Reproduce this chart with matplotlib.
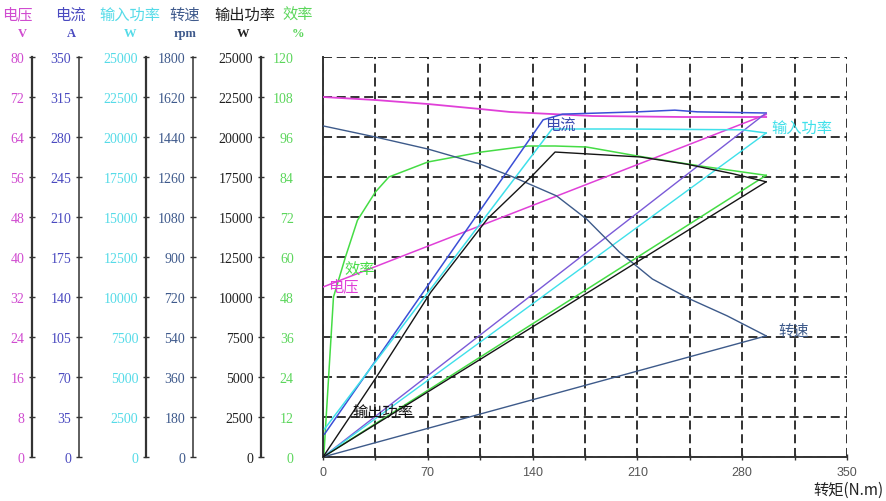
import numpy as np
import matplotlib
matplotlib.use("Agg")
import matplotlib.pyplot as plt

# ---------------- data ----------------
# voltage (V)
volt_torque = [0, 35, 70, 105, 125, 180, 240, 296]
volt_vals = [72, 71.4, 70.6, 69.6, 69.0, 68.2, 68.0, 68.0]
volt_ret_torque = [296, 0]
volt_ret_vals = [68.5, 34.0]

# current (A)
cur_torque = [1, 147, 160, 210, 235, 250, 296]
cur_vals = [20, 295, 300, 302, 303.5, 302, 301]
cur_ret_torque = [296, 0]
cur_ret_vals = [301, 0]

# input power (W)
pin_torque = [1, 153, 200, 280, 296]
pin_vals = [1750, 20500, 20500, 20450, 20250]
pin_ret_torque = [296, 0]
pin_ret_vals = [20250, 0]

# speed (rpm)
spd_torque = [0, 35, 70, 105, 127, 156, 176, 198, 220, 245, 270, 296]
spd_vals = [1490, 1440, 1386, 1318, 1260, 1175, 1071, 922, 801, 711, 635, 545]
spd_ret_torque = [296, 0]
spd_ret_vals = [545, 0]

# output power (W)
pout_torque = [0, 35, 72, 110, 140, 155, 212, 243, 274, 296]
pout_vals = [0, 4900, 10300, 14900, 17600, 19060, 18750, 18300, 17700, 17200]
pout_ret_torque = [296, 0]
pout_ret_vals = [17200, 0]

# efficiency (%)
eff_torque = [0.5, 7, 15, 23, 35, 44, 70, 106, 137, 155, 176, 210, 252, 296]
eff_vals = [0, 48, 60, 71, 79.5, 84, 88.5, 91.5, 93.3, 93.3, 93.0, 90.3, 87.3, 84.5]
eff_ret_torque = [296, 0]
eff_ret_vals = [84.5, 0]

x_ticks = [0, 70, 140, 210, 280, 350]
x_minor = [35, 105, 175, 245, 315]

# axis definitions
axis_names = ["电压", "电流", "输入功率", "转速", "输出功率", "效率"]
axis_units = ["V", "A", "W", "rpm", "W", "%"]
axis_max = [80, 350, 25000, 1800, 25000, 120]

# ---------------- style ----------------
CJK = ["Noto Sans CJK SC", "DejaVu Sans"]
SERIF = ["Liberation Serif", "DejaVu Serif"]
plt.rcParams["font.family"] = SERIF

c_volt = "#e040d8"
c_cur = "#4f4fcf"
c_pin = "#3fe0ea"
c_spd = "#3d5a8a"
c_pout = "#151515"
c_eff = "#45dc45"
lab_cols = ["#d04cd0", "#4a4ac0", "#55dbe8", "#3f5a8c", "#202020", "#5cd65c"]

W, H = 887, 502
fig = plt.figure(figsize=(W / 100, H / 100), dpi=100)
fig.patch.set_facecolor("white")

L, R, T, B = 323, 847, 58, 458
ax = fig.add_axes([L / W, 1 - B / H, (R - L) / W, (B - T) / H])
ax.set_xlim(0, 350)
ax.set_ylim(0, axis_max[5])
ax.set_xticks(x_ticks)
ax.set_xticks(x_minor, minor=True)
ax.set_yticks(np.linspace(0, axis_max[5], 11))
ax.set_yticklabels([f"{v:g}" for v in np.linspace(0, axis_max[5], 11)])
ax.grid(True, which="both", color="#222222", linestyle=(0, (5, 2.6)), linewidth=1.3)
ax.set_axisbelow(True)
for s in ["top", "right"]:
    ax.spines[s].set_visible(False)
for s in ["left", "bottom"]:
    ax.spines[s].set_color("#333333")
    ax.spines[s].set_linewidth(1.4)
ax.tick_params(axis="y", length=0, pad=21, labelcolor=lab_cols[5], labelsize=10)
ax.tick_params(axis="x", which="both", direction="inout", length=5, width=1,
               color="#333333", labelcolor="#555555", labelsize=9, pad=4)
for lab in ax.get_xticklabels():
    lab.set_family(["Liberation Sans", "DejaVu Sans"])

spine_px = [32, 79, 146, 193, 261]
twin_axes = []
for i in range(5):
    t = ax.twinx()
    t.set_ylim(0, axis_max[i])
    ticks = np.linspace(0, axis_max[i], 11)
    t.set_yticks(ticks)
    t.set_yticklabels([f"{v:g}" for v in ticks])
    t.yaxis.set_ticks_position("left")
    t.yaxis.set_label_position("left")
    for s in ["right", "top", "bottom"]:
        t.spines[s].set_visible(False)
    t.spines["left"].set_visible(True)
    t.spines["left"].set_position(("axes", (spine_px[i] - L) / (R - L)))
    t.spines["left"].set_color("#333333")
    t.spines["left"].set_linewidth(1.6 if i in (0, 2, 4) else 1.1)
    t.tick_params(axis="y", direction="inout", length=5, width=1, color="#333333",
                  labelcolor=lab_cols[i], labelsize=10, pad=3)
    twin_axes.append(t)

ax_v, ax_c, ax_pin, ax_s, ax_pout = twin_axes

lw = 1.0
ax_v.plot(volt_torque, volt_vals, color=c_volt, lw=1.3)
ax_v.plot(volt_ret_torque, volt_ret_vals, color=c_volt, lw=1.1)
ax_c.plot(cur_torque, cur_vals, color="#3b4fd6", lw=1.1)
ax_c.plot(cur_ret_torque, cur_ret_vals, color="#7a5ad8", lw=lw)
ax_pin.plot(pin_torque, pin_vals, color=c_pin, lw=1.1)
ax_pin.plot(pin_ret_torque, pin_ret_vals, color=c_pin, lw=lw)
ax_s.plot(spd_torque, spd_vals, color=c_spd, lw=lw)
ax_s.plot(spd_ret_torque, spd_ret_vals, color=c_spd, lw=lw)
ax_pout.plot(pout_torque, pout_vals, color=c_pout, lw=lw)
ax_pout.plot(pout_ret_torque, pout_ret_vals, color=c_pout, lw=lw)
ax.plot(eff_torque, eff_vals, color=c_eff, lw=1.1)
ax.plot(eff_ret_torque, eff_ret_vals, color=c_eff, lw=1.1)


def ftext(x, y, s, **kw):
    fig.text(x / W, 1 - y / H, s, **kw)


# curve labels
ftext(560, 125, "电流", color="#3a4ab0", fontsize=11, family=CJK, ha="center", va="center")
ftext(771, 128, "输入功率", color=c_pin, fontsize=11, family=CJK, ha="left", va="center")
ftext(778, 331, "转速", color=c_spd, fontsize=11, family=CJK, ha="left", va="center")
ftext(360, 270, "效率", color=c_eff, fontsize=11, family=CJK, ha="center", va="center")
ftext(343, 287, "电压", color=c_volt, fontsize=11, family=CJK, ha="center", va="center")
ftext(383, 412, "输出功率", color="#111111", fontsize=11, family=CJK, ha="center", va="center")

# headers
head_x = [17, 70, 130, 185, 245, 298]
unit_x = [22, 71, 130, 185, 243, 298]
for i in range(6):
    ftext(head_x[i], 15, axis_names[i], color=lab_cols[i], fontsize=11, family=CJK,
          ha="center", va="center")
    ftext(unit_x[i], 34, axis_units[i], color=lab_cols[i], fontsize=9, family=SERIF,
          fontweight="bold", ha="center", va="center")

# x label
ftext(884, 490, "转矩(N.m)", color="#222222", fontsize=11, family=CJK, ha="right", va="center")

fig.savefig("out.png", dpi=100, facecolor="white")
